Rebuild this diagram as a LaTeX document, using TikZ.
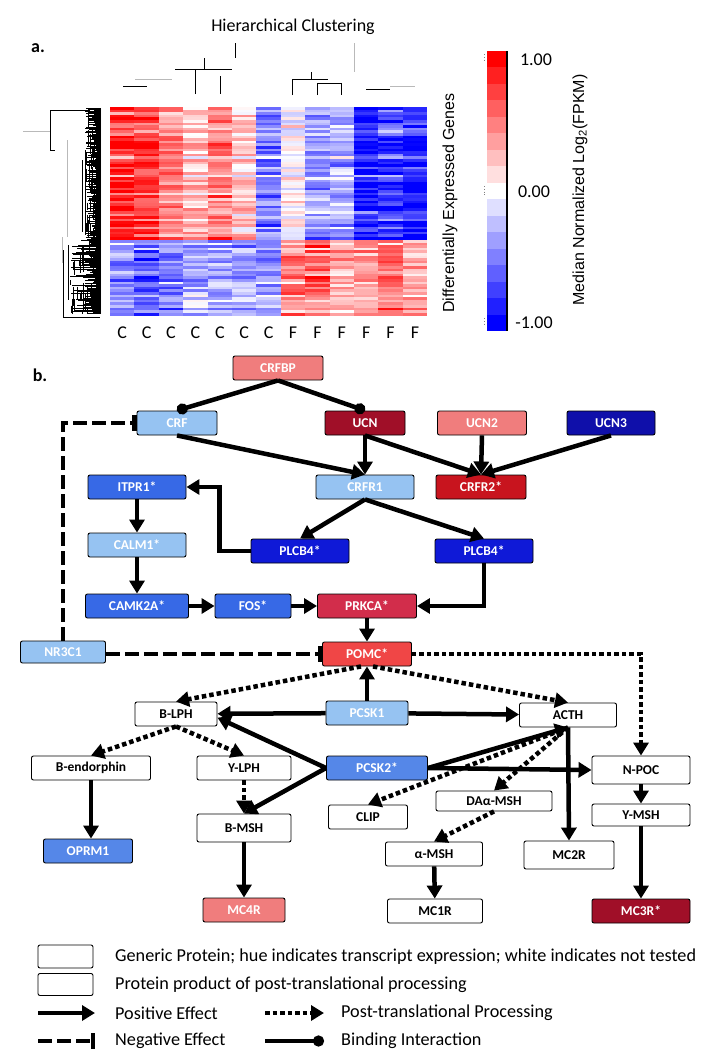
\documentclass[tikz,border=0pt]{standalone}
\usepackage{fontspec}
\setmainfont{Carlito}
\newfontfamily\arialfont{Liberation Sans}
\usepackage{tikz}
\usetikzlibrary{arrows.meta, calc}
\definecolor{hmred}{RGB}{255,0,0}
\definecolor{hmblue}{RGB}{0,0,255}
\definecolor{salmon}{RGB}{240,125,125}
\definecolor{lblue}{RGB}{150,195,242}
\definecolor{mblue}{RGB}{55,105,230}
\definecolor{pblue}{RGB}{85,135,232}
\definecolor{dblue}{RGB}{15,25,215}
\definecolor{navy}{RGB}{15,15,170}
\definecolor{dred}{RGB}{160,15,40}
\definecolor{crimson}{RGB}{200,20,30}
\definecolor{rose}{RGB}{210,45,75}
\definecolor{pomcred}{RGB}{240,70,70}
\tikzset{
  gene/.style={rectangle, draw=black, line width=0.9pt, rounded corners=2pt,
    minimum height=24pt, inner sep=1pt, text=white,
    font=\fontsize{13.5}{15}\selectfont\bfseries},
  product/.style={gene, fill=white, text=black},
  posarrow/.style={-{Triangle[length=13pt,width=15pt]}, line width=4.5pt},
  procarrow/.style={-{Triangle[length=13pt,width=15pt]}, line width=4.5pt,
    dash pattern=on 4.5pt off 3pt},
  negarrow/.style={-{Bar[width=16pt]}, line width=4.5pt,
    dash pattern=on 14pt off 5pt},
  bindarrow/.style={-{Circle[length=11pt]}, line width=4.5pt},
  keytext/.style={anchor=west, inner sep=0pt, font=\fontsize{18.2}{20}\selectfont},
  bigtext/.style={font=\fontsize{18}{20}\selectfont},
  axistext/.style={rotate=90, font=\arialfont\fontsize{16}{18}\selectfont},
  dendro/.style={line width=0.7pt},
  faint/.style={line width=0.8pt, gray!55}
}

\begin{document}
\begin{tikzpicture}[x=1pt, y=-1pt]
  \fill[white] (0,0) rectangle (709,1050);
  \useasboundingbox (0,0) rectangle (709,1050);

  % ---------- a. heat map ----------
  \node[font=\fontsize{18}{20}\selectfont\bfseries] (parta) at (38,48) {a.};
  \node[bigtext] (hctitle) at (293,27) {Hierarchical Clustering};

  \pgfmathsetseed{11}
  % control-up block
  \foreach \row in {0,...,50} {
    \pgfmathsetmacro\rf{0.55+0.9*rnd}
    \foreach \cb [count=\ci from 0] in {0.85,0.75,0.45,0.25,0.5,0.2,-0.45,0.05,-0.4,-0.3,-0.85,-0.75,-0.85} {
      \pgfmathsetmacro\hv{max(-100,min(100,100*(\cb*\rf+0.6*(rnd-0.5))))}
      \pgfmathsetmacro\hw{abs(\hv)}
      \ifdim\hv pt>0pt\def\hc{hmred}\else\def\hc{hmblue}\fi
      \fill[\hc!\hw!white] (110+24.4*\ci,107+2.6*\row) rectangle ++(24.5,2.7);
    }
  }
  % F-up block
  \foreach \row in {0,...,28} {
    \pgfmathsetmacro\rf{0.55+0.9*rnd}
    \foreach \cb [count=\ci from 0] in {-0.45,-0.6,-0.5,-0.3,-0.35,-0.35,-0.4,0.45,0.6,0.35,0.5,0.55,0.35} {
      \pgfmathsetmacro\hv{max(-100,min(100,100*(\cb*\rf+0.6*(rnd-0.5))))}
      \pgfmathsetmacro\hw{abs(\hv)}
      \ifdim\hv pt>0pt\def\hc{hmred}\else\def\hc{hmblue}\fi
      \fill[\hc!\hw!white] (110+24.4*\ci,240+2.6*\row) rectangle ++(24.5,2.7);
    }
  }
  % sample labels
  \foreach \lab [count=\ci from 0] in {C,C,C,C,C,C,C,F,F,F,F,F,F}
    \node[bigtext] (col\ci) at (122.2+24.4*\ci,333) {\lab};

  % gene dendrogram: dense leaves, then branches
  \foreach \row in {0,...,205} {
    \pgfmathsetmacro\ly{108+\row}
    \pgfmathsetmacro\ll{\row<132 ? 4+12*rnd : 4+27*rnd}
    \draw[line width=0.8pt] (101,\ly) -- (101-\ll,\ly);
  }
  \foreach \k in {0,...,70} {
    \pgfmathsetmacro\vy{108+205*rnd}
    \pgfmathsetmacro\vx{\vy<240 ? 85+12*rnd : 70+26*rnd}
    \pgfmathsetmacro\vh{4+16*rnd}
    \draw[line width=0.9pt] (\vx,\vy) -- (\vx,{min(314,\vy+\vh)});
  }
  \draw[dendro] (85,150) -- (85,235);
  \draw[dendro] (82,160) -- (82,232);
  \draw[faint] (67,140) -- (67,237);
  \draw[faint] (62,237) -- (62,263);
  \draw[dendro] (68,245) -- (68,300);
  \draw[dendro] (63,250) -- (63,317) -- (100,317);
  \draw[faint] (23,131) -- (50,131);
  \draw[dendro] (90,110) -- (50,110) -- (50,150) -- (55,150);

  % sample dendrogram
  \draw[dendro] (123,86) -- (147,86);
  \draw[faint] (135,79) -- (172,79);
  \draw[dendro] (195,94) -- (195,69) -- (232,69);
  \draw[dendro] (175,69) -- (195,69);
  \draw[dendro] (204,58) -- (204,69);
  \draw[dendro] (220,76) -- (220,94);
  \draw[dendro] (235,43) -- (235,58);
  \draw[dendro] (292,95) -- (292,79) -- (328,79);
  \draw[dendro] (311,72) -- (311,79);
  \draw[dendro] (317,95) -- (317,83) -- (341,83) -- (341,95);
  \draw[faint] (354,43) -- (354,72);
  \draw[dendro] (366,89) -- (390,89);
  \draw[faint] (390,86) -- (415,86);

  % row axis title
  \node[axistext] (rowtitle) at (450,203) {Differentially Expressed Genes};

  % colour scale
  \foreach \k in {0,...,16} {
    \pgfmathsetmacro\hv{100-12.5*\k}
    \pgfmathsetmacro\hw{abs(\hv)}
    \ifdim\hv pt>0pt\def\hc{hmred}\else\def\hc{hmblue}\fi
    \fill[\hc!\hw!white] (487,51+16.47*\k) rectangle ++(20,16.6);
  }
  \draw[line width=1.5pt] (507,51) -- (507,331);
  \draw[gray, line width=0.8pt, dotted] (484,54) -- (484,60);
  \draw[gray, line width=0.8pt, dotted] (484,186) -- (484,195);
  \draw[gray, line width=0.8pt, dotted] (484,318) -- (484,324);
  \node[bigtext] (cbhigh) at (536,60) {1.00};
  \node[bigtext] (cbmid) at (534,192) {0.00};
  \node[bigtext] (cblow) at (534,323) {-1.00};
  \node[axistext] (cbtitle) at (580,190) {Median Normalized Log\textsubscript{2}(FPKM)};

  % ---------- b. pathway ----------
  \node[font=\fontsize{18}{20}\selectfont\bfseries] (partb) at (40,375) {b.};

  \node[gene, fill=salmon, minimum width=90pt] (crfbp) at (278,368) {CRFBP};
  \node[gene, fill=lblue, minimum width=80pt] (crf) at (177,423) {CRF};
  \node[gene, fill=dred, minimum width=80pt] (ucn) at (365,423) {UCN};
  \node[gene, fill=salmon, minimum width=89pt] (ucn2) at (482,423) {UCN2};
  \node[gene, fill=navy, minimum width=88pt] (ucn3) at (611,423) {UCN3};
  \node[gene, fill=mblue, minimum width=98pt] (itpr1) at (137,487) {ITPR1*};
  \node[gene, fill=lblue, minimum width=98pt] (crfr1) at (365,487) {CRFR1};
  \node[gene, fill=crimson, minimum width=90pt] (crfr2) at (481,487) {CRFR2*};
  \node[gene, fill=lblue, minimum width=98pt] (calm1) at (137,545) {CALM1*};
  \node[gene, fill=dblue, minimum width=98pt] (plcbl) at (300,551) {PLCB4*};
  \node[gene, fill=dblue, minimum width=98pt] (plcbr) at (484,551) {PLCB4*};
  \node[gene, fill=mblue, minimum width=103pt] (camk2a) at (137,606) {CAMK2A*};
  \node[gene, fill=mblue, minimum width=76pt] (fos) at (253,606) {FOS*};
  \node[gene, fill=rose, minimum width=99pt] (prkca) at (367,606) {PRKCA*};
  \node[gene, fill=lblue, minimum width=85pt, minimum height=22pt] (nr3c1) at (63,652) {NR3C1};
  \node[gene, fill=pomcred, minimum width=89pt] (pomc) at (367,654) {POMC*};
  \node[product, minimum width=82pt] (blph) at (176,714) {B-LPH};
  \node[gene, fill=lblue, minimum width=82pt] (pcsk1) at (367,713) {PCSK1};
  \node[product, minimum width=97pt] (acth) at (568,715) {ACTH};
  \node[product, minimum width=119pt] (bendo) at (91,768) {B-endorphin};
  \node[product, minimum width=94pt] (ylph) at (244,768) {Y-LPH};
  \node[gene, fill=pblue, minimum width=101pt] (pcsk2) at (377,768) {PCSK2*};
  \node[product, minimum width=98pt, minimum height=28pt] (npoc) at (641,770) {N-POC};
  \node[product, minimum width=116pt, minimum height=20pt] (dam) at (494,801) {DAα-MSH};
  \node[product, minimum width=79pt] (clip) at (368,817) {CLIP};
  \node[product, minimum width=98pt, minimum height=22pt] (ymsh) at (641,815) {Y-MSH};
  \node[product, minimum width=94pt, minimum height=28pt] (bmsh) at (244,828) {B-MSH};
  \node[gene, fill=pblue, minimum width=89pt] (oprm1) at (88,851) {OPRM1};
  \node[product, minimum width=97pt] (amsh) at (434,854) {α-MSH};
  \node[product, minimum width=90pt, minimum height=28pt] (mc2r) at (569,855) {MC2R};
  \node[gene, fill=salmon, minimum width=82pt] (mc4r) at (244,910) {MC4R};
  \node[product, minimum width=95pt] (mc1r) at (435,911) {MC1R};
  \node[gene, fill=dred, minimum width=98pt] (mc3r) at (641,911) {MC3R*};

  % CRF system
  \draw[bindarrow] (crfbp.south) -- (crf.north);
  \draw[bindarrow] (crfbp.south) -- (ucn.north);
  \draw[posarrow] (crf.south) -- (crfr1.north);
  \draw[posarrow] (ucn.south) -- (crfr1.north);
  \draw[posarrow] (ucn.south) -- (crfr2.north);
  \draw[posarrow] (ucn2.south) -- (crfr2.north);
  \draw[posarrow] (ucn3.south) -- (crfr2.north);
  \draw[posarrow] (crfr1.south) -- (plcbl.north);
  \draw[posarrow] (crfr1.south) -- (plcbr.north);

  % signalling down to POMC
  \draw[posarrow] (plcbl.west) -- ++(-31,0) |- (itpr1.east);
  \draw[posarrow] (itpr1) -- (calm1);
  \draw[posarrow] (calm1) -- (camk2a);
  \draw[posarrow] (camk2a) -- (fos);
  \draw[posarrow] (fos) -- (prkca);
  \draw[posarrow] (plcbr.south) |- (prkca.east);
  \draw[posarrow] (prkca) -- (pomc);

  % glucocorticoid feedback
  \draw[negarrow] (nr3c1.north) |- (crf.west);
  \draw[negarrow] (nr3c1.east |- pomc.west) -- (pomc.west);

  % POMC processing
  \draw[procarrow] (pomc.east) -| (npoc.north);
  \draw[procarrow] ($(pomc.south)+(-6,0)$) -- (blph.north);
  \draw[procarrow] ($(pomc.south)+(6,0)$) -- (acth.north);
  \draw[posarrow] (pcsk1) -- (pomc);
  \draw[posarrow] (pcsk1) -- (blph);
  \draw[posarrow] (pcsk1) -- (acth);
  \draw[procarrow] (blph.south) -- (bendo.north);
  \draw[procarrow] (blph.south) -- (ylph.north);
  \draw[posarrow] (pcsk2.west) -- (blph.-5);
  \draw[posarrow] (pcsk2.west) -- (bmsh.north);
  \draw[procarrow] (ylph) -- (bmsh);
  \draw[posarrow] (pcsk2.east) -- (acth.south);
  \draw[posarrow] (pcsk2.east) -- (npoc.west);
  \draw[procarrow] (acth.south) -- (clip.north);
  \draw[procarrow] (acth.south) -- (dam.north);
  \draw[procarrow] (dam.south) -- (amsh.north);
  \draw[posarrow] (acth.south) -- (mc2r.north);
  \draw[posarrow] (npoc) -- (ymsh);

  % receptors
  \draw[posarrow] (ymsh) -- (mc3r);
  \draw[posarrow] (bendo.south) -- (bendo.south |- oprm1.north);
  \draw[posarrow] (bmsh) -- (mc4r);
  \draw[posarrow] (amsh) -- (mc1r);

  % ---------- key ----------
  \node[product, minimum width=55pt, minimum height=23pt] (keygene) at (65.5,956.5) {};
  \node[product, minimum width=55pt, minimum height=22pt] (keyprod) at (65.5,984.5) {};
  \node[keytext] (keygenetxt) at (115,957) {Generic Protein; hue indicates transcript expression; white indicates not tested};
  \node[keytext] (keyprodtxt) at (115,985) {Protein product of post-translational processing};
  \coordinate (kposa) at (38,1013);
  \coordinate (kposb) at (95,1013);
  \coordinate (kproca) at (265,1013);
  \coordinate (kprocb) at (324,1013);
  \coordinate (knega) at (38,1041);
  \coordinate (knegb) at (95,1041);
  \coordinate (kbinda) at (265,1041);
  \coordinate (kbindb) at (324,1041);
  \draw[posarrow] (kposa) -- (kposb);
  \draw[procarrow] (kproca) -- (kprocb);
  \draw[negarrow] (knega) -- (knegb);
  \draw[bindarrow] (kbinda) -- (kbindb);
  \node[keytext] (kpostxt) at (115,1013) {Positive Effect};
  \node[keytext] (kproctxt) at (341,1013) {Post-translational Processing};
  \node[keytext] (knegtxt) at (115,1041) {Negative Effect};
  \node[keytext] (kbindtxt) at (341,1041) {Binding Interaction};
\end{tikzpicture}
\end{document}
